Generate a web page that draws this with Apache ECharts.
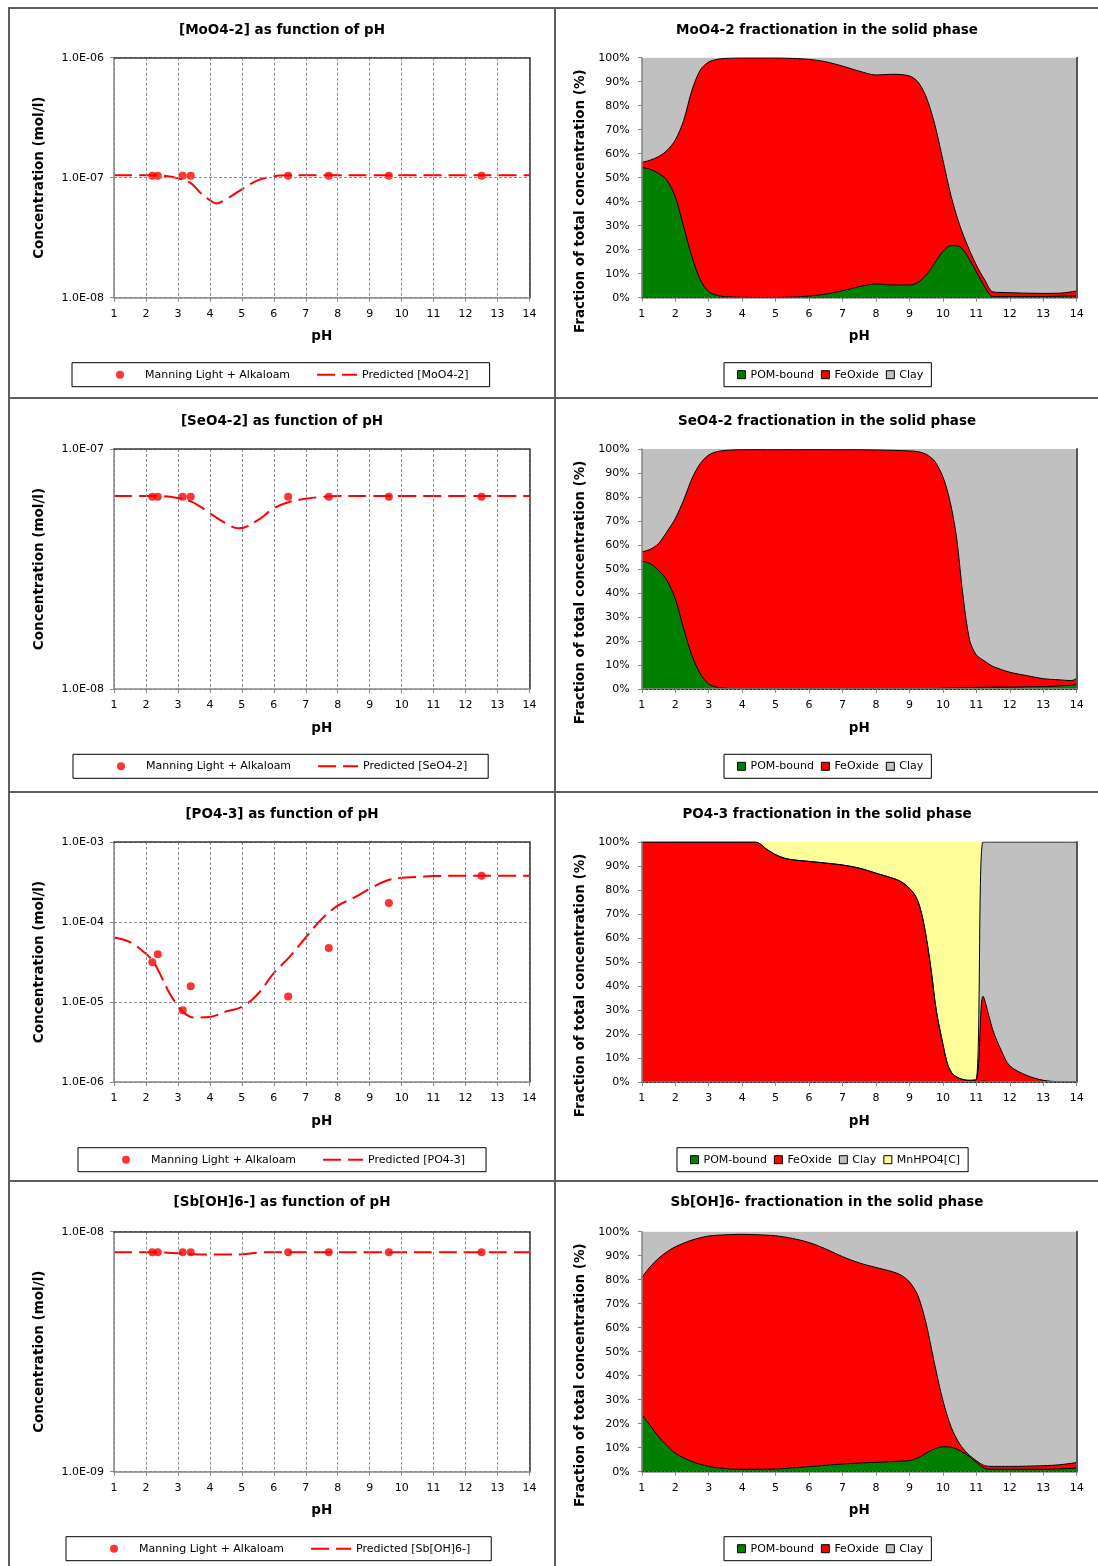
<!DOCTYPE html>
<html>
<head>
<meta charset="utf-8">
<title>Oxyanion speciation vs pH</title>
<script src="https://cdn.jsdelivr.net/npm/echarts@6/dist/echarts.min.js"></script>
<style>
  html, body { margin: 0; padding: 0; background: #fff; }
  body { position: relative; width: 1098px; height: 1566px; overflow: hidden; }
  .rule { position: absolute; background: #5e5e5e; }
  .panel { position: absolute; }
</style>
</head>
<body>
<!-- panel frame lines -->
<div class="rule" style="left:8px;top:7px;width:2px;height:1559px"></div>
<div class="rule" style="left:554px;top:7px;width:2px;height:1559px"></div>
<div class="rule" style="left:8px;top:7px;width:1090px;height:2px"></div>
<div class="rule" style="left:8px;top:397px;width:1090px;height:2px"></div>
<div class="rule" style="left:8px;top:791px;width:1090px;height:2px"></div>
<div class="rule" style="left:8px;top:1180px;width:1090px;height:2px"></div>

<div class="panel" id="c0" style="left:10px;top:9px;width:544px;height:388px"></div>
<div class="panel" id="f0" style="left:556px;top:9px;width:542px;height:388px"></div>
<div class="panel" id="c1" style="left:10px;top:399px;width:544px;height:392px"></div>
<div class="panel" id="f1" style="left:556px;top:399px;width:542px;height:392px"></div>
<div class="panel" id="c2" style="left:10px;top:793px;width:544px;height:387px"></div>
<div class="panel" id="f2" style="left:556px;top:793px;width:542px;height:387px"></div>
<div class="panel" id="c3" style="left:10px;top:1182px;width:544px;height:384px"></div>
<div class="panel" id="f3" style="left:556px;top:1182px;width:542px;height:384px"></div>

<script>
// ---------------- measured data (Manning Light + Alkaloam) ----------------
const PH_MEAS = [2.2, 2.37, 3.15, 3.4, 6.45, 7.72, 9.6, 12.5];
const MOO4_MEAS = [1.04e-7, 1.04e-7, 1.04e-7, 1.04e-7, 1.04e-7, 1.04e-7, 1.04e-7, 1.04e-7];
const SEO4_MEAS = [6.33e-8, 6.33e-8, 6.33e-8, 6.33e-8, 6.33e-8, 6.33e-8, 6.33e-8, 6.33e-8];
const PO4_MEAS = [3.13e-5, 3.94e-5, 7.9e-6, 1.57e-5, 1.17e-5, 4.73e-5, 1.73e-4, 3.78e-4];
const SBOH6_MEAS = [8.22e-9, 8.22e-9, 8.22e-9, 8.22e-9, 8.22e-9, 8.22e-9, 8.22e-9, 8.22e-9];

// ---------------- model predictions ----------------
const MOO4_PRED_PH = [1, 2, 2.5, 3, 3.4, 3.7, 4, 4.2, 4.5, 5, 5.5, 6, 6.5, 7, 8, 9, 10, 11, 12, 13, 14];
const MOO4_PRED = [1.05e-7, 1.05e-7, 1.04e-7, 9.9e-8, 9.0e-8, 7.5e-8, 6.5e-8, 6.1e-8, 6.6e-8, 8.0e-8, 9.5e-8,
  1.03e-7, 1.05e-7, 1.05e-7, 1.05e-7, 1.05e-7, 1.05e-7, 1.05e-7, 1.05e-7, 1.05e-7, 1.05e-7];

const SEO4_PRED_PH = [1, 2, 2.5, 3, 3.4, 3.7, 4, 4.5, 4.9, 5.5, 6, 6.5, 7, 7.5, 8, 9, 10, 11, 12, 13, 14];
const SEO4_PRED = [6.37e-8, 6.37e-8, 6.36e-8, 6.25e-8, 6.05e-8, 5.75e-8, 5.4e-8, 4.9e-8, 4.67e-8, 5.05e-8, 5.66e-8,
  6.03e-8, 6.2e-8, 6.32e-8, 6.37e-8, 6.37e-8, 6.37e-8, 6.37e-8, 6.37e-8, 6.37e-8, 6.37e-8];

const PO4_PRED_PH = [1, 1.5, 2, 2.25, 2.5, 2.75, 3, 3.25, 3.5, 4, 4.5, 5, 5.5, 6, 6.5, 7, 7.5, 8, 8.5, 9, 9.5, 10, 10.5, 11, 12, 13, 14];
const PO4_PRED = [6.4e-5, 5.6e-5, 4.0e-5, 3.1e-5, 2.0e-5, 1.26e-5, 9.0e-6, 7.0e-6, 6.4e-6, 6.5e-6, 7.6e-6, 8.7e-6,
  1.26e-5, 2.3e-5, 3.7e-5, 6.4e-5, 1.09e-4, 1.6e-4, 2.0e-4, 2.6e-4, 3.25e-4, 3.57e-4, 3.65e-4, 3.75e-4, 3.78e-4, 3.78e-4, 3.78e-4];

const SBOH6_PRED_PH = [1, 2, 2.5, 3, 3.5, 4, 4.5, 5, 5.5, 6, 7, 8, 9, 10, 11, 12, 13, 14];
const SBOH6_PRED = [8.22e-9, 8.22e-9, 8.2e-9, 8.13e-9, 8.05e-9, 8.03e-9, 8.03e-9, 8.05e-9, 8.18e-9, 8.22e-9,
  8.22e-9, 8.22e-9, 8.22e-9, 8.22e-9, 8.22e-9, 8.22e-9, 8.22e-9, 8.22e-9];

// ---------------- solid-phase fractionation (% of total) ----------------
const MOO4_FRAC_PH = [1, 1.25, 1.5, 1.75, 2, 2.25, 2.5, 2.75, 3, 3.25, 3.5, 4, 4.5, 5, 5.5, 6, 6.5, 7, 7.5, 8, 8.5, 9,
  9.25, 9.5, 9.75, 10, 10.25, 10.5, 10.75, 11, 11.25, 11.5, 12, 12.5, 13, 13.5, 14];
const MOO4_POM = [54.3, 53.5, 51.8, 49.0, 42.0, 29.6, 17.0, 7.4, 2.5, 1.0, 0.4, 0.2, 0.1, 0.1, 0.3, 0.7, 1.5, 2.9, 4.6, 5.7,
  5.3, 5.3, 6.3, 9.4, 14.3, 19.2, 21.7, 21.3, 17.0, 10.8, 4.6, 0.4, 0.5, 0.5, 0.5, 0.6, 0.8];
const MOO4_FEOX = [2.1, 3.8, 7.0, 12.3, 23.7, 44.2, 69.5, 87.5, 95.7, 98.3, 99.3, 99.7, 99.8, 99.8, 99.4, 98.6, 96.8, 93.6,
  89.8, 87.1, 87.8, 87.1, 83.7, 74.3, 58.3, 38.2, 20.4, 9.0, 4.3, 2.8, 2.8, 2.0, 1.6, 1.4, 1.3, 1.3, 2.0];
const MOO4_CLAY = [43.6, 42.7, 41.2, 38.7, 34.3, 26.2, 13.5, 5.1, 1.8, 0.7, 0.3, 0.1, 0.1, 0.1, 0.3, 0.7, 1.7, 3.5, 5.6, 7.2,
  6.9, 7.6, 10.0, 16.3, 27.4, 42.6, 57.9, 69.7, 78.7, 86.4, 92.6, 97.6, 97.9, 98.1, 98.2, 98.1, 97.2];

const SEO4_FRAC_PH = [1, 1.25, 1.5, 1.75, 2, 2.25, 2.5, 2.75, 3, 3.25, 3.5, 4, 5, 6, 7, 8, 9, 9.25, 9.5, 9.75, 10, 10.2,
  10.4, 10.6, 10.8, 11, 11.25, 11.5, 12, 12.5, 13, 13.5, 13.85, 14];
const SEO4_POM = [53.3, 52.2, 49.4, 45.3, 37.6, 25.1, 13.9, 6.3, 2.1, 0.7, 0.3, 0.1, 0.1, 0.1, 0.1, 0.1, 0.1, 0.1, 0.1, 0.2,
  0.3, 0.4, 0.5, 0.5, 0.6, 0.7, 0.7, 0.8, 0.8, 0.9, 1.0, 1.3, 1.6, 2.0];
const SEO4_FEOX = [3.8, 6.0, 11.2, 20.2, 33.4, 53.6, 73.8, 87.7, 95.4, 98.2, 99.1, 99.6, 99.6, 99.6, 99.6, 99.5, 99.1, 98.8,
  97.7, 94.8, 88.1, 78.6, 63.5, 38.5, 19.7, 13.5, 10.9, 8.6, 6.2, 4.7, 3.3, 2.5, 1.9, 2.5];
const SEO4_CLAY = [42.9, 41.8, 39.4, 34.5, 29.0, 21.3, 12.3, 6.0, 2.5, 1.1, 0.6, 0.3, 0.3, 0.3, 0.3, 0.4, 0.8, 1.1, 2.2, 5.0,
  11.6, 21.0, 36.0, 61.0, 79.7, 85.8, 88.4, 90.6, 93.0, 94.4, 95.7, 96.2, 96.5, 95.5];

const PO4_FRAC_PH = [1, 2, 3, 4, 4.4, 4.75, 5, 5.25, 5.5, 6, 6.5, 7, 7.5, 8, 8.5, 8.75, 9, 9.2, 9.35, 9.5, 9.65, 9.8, 10,
  10.15, 10.3, 10.5, 10.75, 11, 11.2, 11.5, 11.75, 12, 12.5, 13, 13.5, 14];
const PO4_POM = [0, 0, 0, 0, 0, 0, 0, 0, 0, 0, 0, 0, 0, 0, 0, 0, 0, 0, 0, 0, 0, 0, 0, 0, 0, 0, 0, 0, 0.4, 0, 0, 0, 0, 0, 0, 0];
const PO4_FEOX = [100, 100, 100, 100, 100, 96.8, 94.7, 93.3, 92.6, 91.9, 91.2, 90.4, 89.1, 87.0, 84.9, 83.5, 80.7, 77.0,
  71.0, 60.5, 46.5, 30.0, 15.8, 7.0, 3.2, 1.5, 0.7, 1.0, 35.3, 21.4, 13.0, 6.7, 2.8, 0.7, 0.1, 0];
const PO4_CLAY = [0, 0, 0, 0, 0, 0, 0, 0, 0, 0, 0, 0, 0, 0, 0, 0, 0, 0, 0, 0, 0, 0, 0, 0, 0, 0, 0, 0, 64.3, 78.6, 87.0,
  93.3, 97.2, 99.3, 99.9, 100];
const PO4_MNHPO4 = [0, 0, 0, 0, 0, 3.2, 5.3, 6.7, 7.4, 8.1, 8.8, 9.6, 10.9, 13.0, 15.1, 16.5, 19.3, 23.0, 29.0, 39.5, 53.5,
  70.0, 84.2, 93.0, 96.8, 98.5, 99.3, 99.0, 0, 0, 0, 0, 0, 0, 0, 0];

const SBOH6_FRAC_PH = [1, 1.25, 1.5, 1.75, 2, 2.5, 3, 3.5, 4, 4.5, 5, 5.5, 6, 6.5, 7, 7.5, 8, 8.5, 8.75, 9, 9.25, 9.5, 9.75,
  10, 10.25, 10.5, 10.75, 11, 11.25, 11.5, 12, 13, 13.5, 14];
const SBOH6_POM = [23.8, 19.2, 14.6, 10.9, 7.7, 4.2, 2.2, 1.25, 1.0, 1.05, 1.1, 1.6, 2.1, 2.7, 3.2, 3.6, 3.9, 4.2, 4.4, 4.6,
  5.7, 7.7, 9.5, 10.4, 10.2, 8.8, 6.7, 3.9, 1.4, 1.0, 1.0, 1.0, 1.2, 1.5];
const SBOH6_FEOX = [57.1, 66.2, 74.3, 80.7, 86.0, 92.3, 96.0, 97.45, 97.9, 97.65, 97.2, 95.6, 93.4, 90.1, 86.4, 83.4, 81.2,
  79.1, 77.5, 74.5, 67.8, 54.0, 35.5, 19.3, 8.3, 2.8, 0.7, 0.7, 1.1, 1.2, 1.2, 1.5, 1.7, 2.3];
const SBOH6_CLAY = [19.1, 14.6, 11.1, 8.4, 6.3, 3.5, 1.8, 1.3, 1.1, 1.3, 1.7, 2.8, 4.5, 7.2, 10.4, 13.0, 14.9, 16.7, 18.1,
  20.9, 26.5, 38.3, 55.0, 70.3, 81.5, 88.4, 92.6, 95.4, 97.5, 97.8, 97.8, 97.5, 97.1, 96.2];

// ---------------- shared styling ----------------
const FONT = 'DejaVu Sans';
const RED = '#ff0000';
const FRACTION_COLORS = {
  'POM-bound': '#008000',
  'FeOxide': '#ff0000',
  'Clay': '#c0c0c0',
  'MnHPO4[C]': '#ffff99'
};
const MEAS_NAME = 'Manning Light + Alkaloam';

// placement of title / plot / legends inside each panel row
const ROW_LAYOUT = [
  { titleTop: 14, gridTop: 48.7, legendTop: 353.7, concLegendLeft: 62, fracLegendLeft: 168 },
  { titleTop: 15, gridTop: 50, legendTop: 355.3, concLegendLeft: 63, fracLegendLeft: 168 },
  { titleTop: 14, gridTop: 49, legendTop: 354.7, concLegendLeft: 68, fracLegendLeft: 121 },
  { titleTop: 13.5, gridTop: 49.7, legendTop: 354.7, concLegendLeft: 56, fracLegendLeft: 168 }
];

function zip(xs, ys) { return xs.map((x, i) => [x, ys[i]]); }

// running totals of the stacked fractions, bottom layer first
function runningTotals(parts) {
  const out = [];
  let acc = null;
  parts.forEach(p => {
    acc = p.values.map((v, i) => (acc ? acc[i] : 0) + v);
    out.push(acc);
  });
  return out;
}

function sciLabel(v) {
  const e = Math.round(Math.log10(v));
  const m = v / Math.pow(10, e);
  const sign = e < 0 ? '-' : '+';
  return m.toFixed(1) + 'E' + sign + String(Math.abs(e)).padStart(2, '0');
}

const boldName = { fontFamily: FONT, fontSize: 13.5, fontWeight: 'bold', color: '#000' };
const tickText = { fontFamily: FONT, fontSize: 11, color: '#000' };
const axisGray = { color: '#868686', width: 1.5 };
const frameDark = { color: '#3a3a3a', width: 1.5 };

function concentrationChart(el, row, cfg) {
  const L = ROW_LAYOUT[row];
  const chart = echarts.init(document.getElementById(el), null, { renderer: 'canvas' });
  chart.setOption({
    animation: false,
    textStyle: { fontFamily: FONT },
    title: {
      text: cfg.title, left: 'center', top: L.titleTop, padding: 0,
      textStyle: boldName
    },
    grid: { left: 104, top: L.gridTop, width: 415.5, height: 240 },
    legend: {
      left: L.concLegendLeft, top: L.legendTop, padding: [6.5, 21, 6.5, 44],
      itemGap: 26, itemWidth: 40, itemHeight: 8,
      borderColor: '#000', borderWidth: 1, backgroundColor: '#fff',
      textStyle: tickText,
      data: [
        { name: MEAS_NAME },
        { name: cfg.predName, itemStyle: { color: 'rgba(0,0,0,0)', borderColor: 'rgba(0,0,0,0)', opacity: 0 } }
      ]
    },
    xAxis: [
      {
        type: 'value', min: 1, max: 14, interval: 1,
        name: 'pH', nameLocation: 'middle', nameGap: 32, nameTextStyle: boldName,
        axisLine: { show: true, lineStyle: axisGray },
        axisTick: { show: true, length: 4, lineStyle: { color: '#868686' } },
        axisLabel: Object.assign({ margin: 11 }, tickText),
        splitLine: { show: true, lineStyle: { color: '#8c8c8c', width: 1, type: [3, 2] } },
        z: 6
      },
      {
        type: 'value', min: 1, max: 14, position: 'top',
        axisLine: { show: true, lineStyle: frameDark },
        axisTick: { show: false }, axisLabel: { show: false }, splitLine: { show: false }, z: 6
      }
    ],
    yAxis: [
      {
        type: 'log', logBase: 10, min: cfg.min, max: cfg.max,
        name: 'Concentration (mol/l)', nameLocation: 'middle', nameGap: 68, nameTextStyle: boldName,
        axisLine: { show: true, lineStyle: axisGray },
        axisTick: { show: true, length: 4, lineStyle: { color: '#868686' } },
        axisLabel: Object.assign({ margin: 10, formatter: sciLabel }, tickText),
        minorTick: { show: false },
        splitLine: { show: true, lineStyle: { color: '#8c8c8c', width: 1, type: [3, 2] } },
        z: 6
      },
      {
        type: 'value', min: 0, max: 1, position: 'right',
        axisLine: { show: true, lineStyle: frameDark },
        axisTick: { show: false }, axisLabel: { show: false }, splitLine: { show: false }, z: 6
      }
    ],
    series: [
      {
        name: MEAS_NAME, type: 'scatter', symbol: 'circle', symbolSize: 8,
        xAxisIndex: 0, yAxisIndex: 0,
        itemStyle: { color: RED }, z: 4,
        data: zip(PH_MEAS, cfg.meas)
      },
      {
        name: cfg.predName, type: 'line', symbol: 'none', smooth: 0.4, z: 3,
        xAxisIndex: 0, yAxisIndex: 0,
        itemStyle: { color: RED },
        lineStyle: { color: RED, width: 2, type: [18, 7] },
        data: zip(cfg.predPh, cfg.pred)
      }
    ]
  });
}

function fractionChart(el, row, cfg) {
  const L = ROW_LAYOUT[row];
  const chart = echarts.init(document.getElementById(el), null, { renderer: 'canvas' });
  const names = cfg.parts.map(p => p.name);
  const totals = runningTotals(cfg.parts);
  // each band is filled from its running total down to 0; upper bands are
  // painted first so the lower ones sit on top of them
  const series = [];
  for (let k = cfg.parts.length - 1; k >= 0; k--) {
    const p = cfg.parts[k];
    series.push({
      name: p.name, type: 'line', symbol: 'none', smooth: 0.3,
      xAxisIndex: 0, yAxisIndex: 0,
      itemStyle: { color: FRACTION_COLORS[p.name] },
      lineStyle: { color: '#000', width: 1, opacity: p.outline ? 1 : 0 },
      areaStyle: { color: FRACTION_COLORS[p.name], opacity: 1, origin: 'start' },
      data: zip(cfg.ph, totals[k])
    });
  }
  chart.setOption({
    animation: false,
    textStyle: { fontFamily: FONT },
    title: {
      text: cfg.title, left: 'center', top: L.titleTop, padding: 0,
      textStyle: boldName
    },
    grid: { left: 85.8, top: L.gridTop, width: 434.9, height: 240 },
    legend: {
      left: L.fracLegendLeft, top: L.legendTop, padding: [6.5, 8, 6.5, 13],
      itemGap: 7, itemWidth: 8, itemHeight: 8,
      borderColor: '#000', borderWidth: 1, backgroundColor: '#fff',
      textStyle: tickText,
      data: names.map(n => ({
        name: n, icon: 'rect',
        itemStyle: { color: FRACTION_COLORS[n], borderColor: '#000', borderWidth: 1 }
      }))
    },
    xAxis: [
      {
        type: 'value', min: 1, max: 14, interval: 1,
        name: 'pH', nameLocation: 'middle', nameGap: 32, nameTextStyle: boldName,
        axisLine: { show: true, lineStyle: axisGray },
        axisTick: { show: true, length: 4, lineStyle: { color: '#868686' } },
        axisLabel: Object.assign({ margin: 11 }, tickText),
        splitLine: { show: false }, z: 6
      },
      {
        type: 'value', min: 1, max: 14, position: 'top',
        axisLine: { show: true, lineStyle: { color: '#333', width: 1, type: [2, 2] } },
        axisTick: { show: false }, axisLabel: { show: false }, splitLine: { show: false }, z: 6
      }
    ],
    yAxis: [
      {
        type: 'value', min: 0, max: 100, interval: 10,
        name: 'Fraction of total concentration (%)', nameLocation: 'middle', nameGap: 47,
        nameTextStyle: Object.assign({ padding: [0, 47, 0, 0] }, boldName),
        axisLine: { show: true, lineStyle: axisGray },
        axisTick: { show: true, length: 4, lineStyle: { color: '#868686' } },
        axisLabel: Object.assign({ margin: 12, formatter: '{value}%' }, tickText),
        splitLine: { show: false }, z: 6
      },
      {
        type: 'value', min: 0, max: 100, position: 'right',
        axisLine: { show: true, lineStyle: { color: '#555', width: 2 } },
        axisTick: { show: false }, axisLabel: { show: false }, splitLine: { show: false }, z: 6
      }
    ],
    series: series
  });
}

// ---------------- left column: dissolved concentrations ----------------
concentrationChart('c0', 0, {
  title: '[MoO4-2] as function of pH', predName: 'Predicted [MoO4-2]',
  min: 1e-8, max: 1e-6, meas: MOO4_MEAS, predPh: MOO4_PRED_PH, pred: MOO4_PRED
});
concentrationChart('c1', 1, {
  title: '[SeO4-2] as function of pH', predName: 'Predicted [SeO4-2]',
  min: 1e-8, max: 1e-7, meas: SEO4_MEAS, predPh: SEO4_PRED_PH, pred: SEO4_PRED
});
concentrationChart('c2', 2, {
  title: '[PO4-3] as function of pH', predName: 'Predicted [PO4-3]',
  min: 1e-6, max: 1e-3, meas: PO4_MEAS, predPh: PO4_PRED_PH, pred: PO4_PRED
});
concentrationChart('c3', 3, {
  title: '[Sb[OH]6-] as function of pH', predName: 'Predicted [Sb[OH]6-]',
  min: 1e-9, max: 1e-8, meas: SBOH6_MEAS, predPh: SBOH6_PRED_PH, pred: SBOH6_PRED
});

// ---------------- right column: solid-phase fractionation ----------------
fractionChart('f0', 0, {
  title: 'MoO4-2 fractionation in the solid phase', ph: MOO4_FRAC_PH,
  parts: [
    { name: 'POM-bound', values: MOO4_POM, outline: true },
    { name: 'FeOxide', values: MOO4_FEOX, outline: true },
    { name: 'Clay', values: MOO4_CLAY, outline: false }
  ]
});
fractionChart('f1', 1, {
  title: 'SeO4-2 fractionation in the solid phase', ph: SEO4_FRAC_PH,
  parts: [
    { name: 'POM-bound', values: SEO4_POM, outline: true },
    { name: 'FeOxide', values: SEO4_FEOX, outline: true },
    { name: 'Clay', values: SEO4_CLAY, outline: false }
  ]
});
fractionChart('f2', 2, {
  title: 'PO4-3 fractionation in the solid phase', ph: PO4_FRAC_PH,
  parts: [
    { name: 'POM-bound', values: PO4_POM, outline: true },
    { name: 'FeOxide', values: PO4_FEOX, outline: true },
    { name: 'Clay', values: PO4_CLAY, outline: true },
    { name: 'MnHPO4[C]', values: PO4_MNHPO4, outline: false }
  ]
});
fractionChart('f3', 3, {
  title: 'Sb[OH]6- fractionation in the solid phase', ph: SBOH6_FRAC_PH,
  parts: [
    { name: 'POM-bound', values: SBOH6_POM, outline: true },
    { name: 'FeOxide', values: SBOH6_FEOX, outline: true },
    { name: 'Clay', values: SBOH6_CLAY, outline: false }
  ]
});
</script>
</body>
</html>
